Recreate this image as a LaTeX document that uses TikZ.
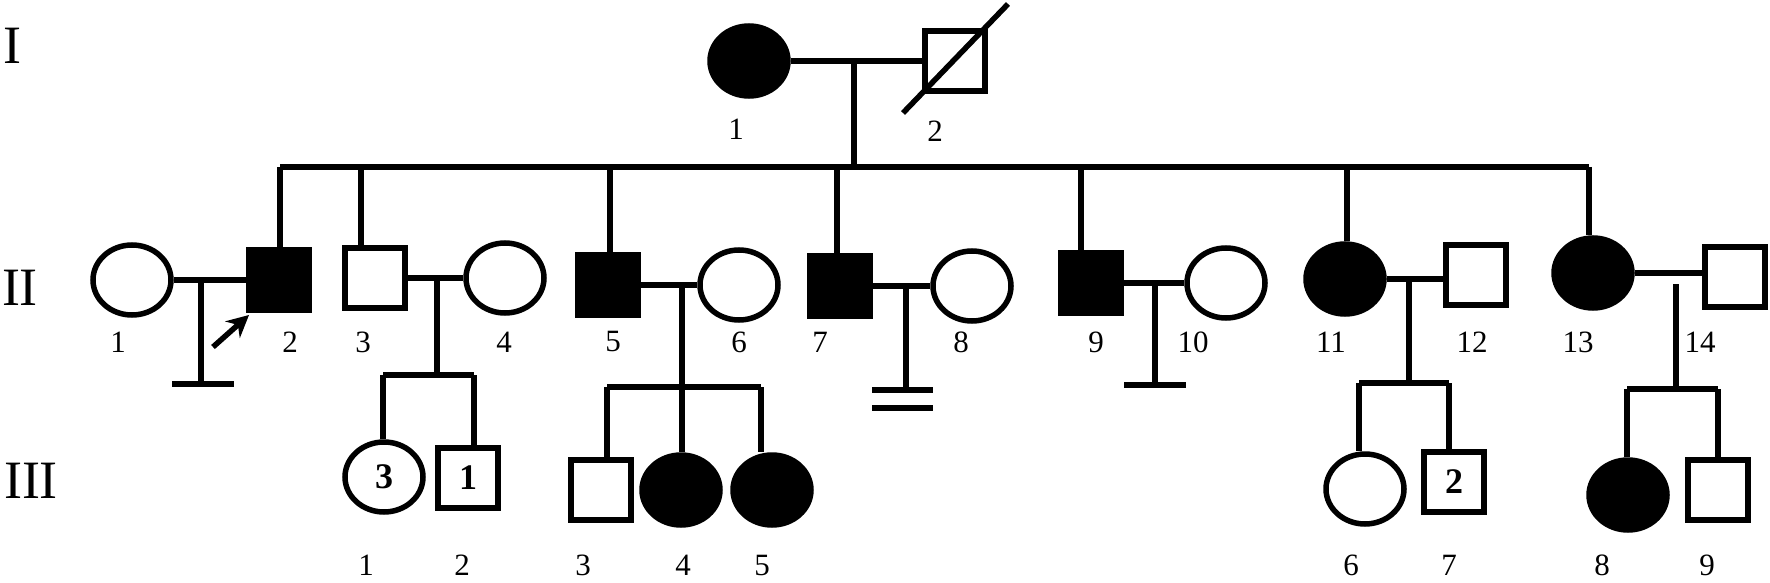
\documentclass[tikz,border=0pt]{standalone}
\usepackage{fontspec}
\setmainfont{Liberation Serif}
\usetikzlibrary{shapes.geometric, arrows.meta}

\begin{document}
\begin{tikzpicture}[x=1pt, y=-1pt, line width=5.5pt,
    female/.style={draw, ellipse, minimum width=78pt, minimum height=70pt, inner sep=0pt},
    male/.style={draw, rectangle, minimum size=60pt, inner sep=0pt},
    affected/.style={fill=black},
    num/.style={font=\fontsize{31}{33}\selectfont, inner sep=0pt},
    count/.style={font=\fontsize{36}{38}\selectfont\bfseries},
    gen/.style={font=\fontsize{54}{56}\selectfont, inner sep=0pt}]
        \useasboundingbox (0,0) rectangle (1770,583);

        % Generation labels
        \node[gen] (gI) at (12, 46) {I};
        \node[gen] (gII) at (20, 288) {II};
        \node[gen] (gIII) at (31, 481) {III};

        % Generation I
        \node[female, affected] (I1) at (749, 61) {};
        \node[male] (I2) at (955, 61) {};
        \draw ([shift={(-52,52)}]I2.center) -- ([shift={(53,-57)}]I2.center); % deceased
        \node[num] (nI1) at (736, 129) {1};
        \node[num] (nI2) at (935, 131) {2};

        % Marriage and sibship line of generation I
        \draw (I1.east) -- (I2.west);
        \coordinate (mI) at (854, 61);
        \coordinate (sL) at (280, 167);
        \coordinate (sR) at (1589, 167);
        \draw (mI) -- (mI |- sL);
        \draw (sL) -- (sR);

        % Generation II
        \node[female] (II1) at (132, 280) {};
        \node[male, affected] (II2) at (279, 280) {};
        \node[male] (II3) at (375, 278) {};
        \node[female] (II4) at (505, 278) {};
        \node[male, affected] (II5) at (608, 285) {};
        \node[female] (II6) at (739, 285) {};
        \node[male, affected] (II7) at (840, 286) {};
        \node[female] (II8) at (972, 286) {};
        \node[male, affected] (II9) at (1091, 283) {};
        \node[female] (II10) at (1226, 283) {};
        \node[female, affected] (II11) at (1345, 279) {};
        \node[male] (II12) at (1476, 275) {};
        \node[female, affected] (II13) at (1593, 273) {};
        \node[male] (II14) at (1735, 277) {};

        % Drops from the sibship line
        \coordinate (d2) at (280, 167);
        \coordinate (d3) at (361, 167);
        \coordinate (d5) at (610, 167);
        \coordinate (d7) at (837, 167);
        \coordinate (d9) at (1081, 167);
        \coordinate (d11) at (1347, 167);
        \coordinate (d13) at (1589, 167);
        \draw (d2) -- (d2 |- II2.north);
        \draw (d3) -- (d3 |- II3.north);
        \draw (d5) -- (d5 |- II5.north);
        \draw (d7) -- (d7 |- II7.north);
        \draw (d9) -- (d9 |- II9.north);
        \draw (d11) -- (d11 |- II11.north);
        \draw (d13) -- (d13 |- II13.north);

        % Numbers of generation II
        \node[num] (nII1) at (118, 342) {1};
        \node[num] (nII2) at (290, 342) {2};
        \node[num] (nII3) at (363, 342) {3};
        \node[num] (nII4) at (504, 342) {4};
        \node[num] (nII5) at (613, 342) {5};
        \node[num] (nII6) at (739, 342) {6};
        \node[num] (nII7) at (820, 342) {7};
        \node[num] (nII8) at (961, 342) {8};
        \node[num] (nII9) at (1096, 342) {9};
        \node[num] (nII10) at (1193, 342) {10};
        \node[num] (nII11) at (1331, 342) {11};
        \node[num] (nII12) at (1472, 342) {12};
        \node[num] (nII13) at (1578, 342) {13};
        \node[num] (nII14) at (1700, 342) {14};

        % Marriage lines of generation II
        \draw (II1.east) -- (II2.west);
        \draw (II3.east) -- (II4.west);
        \draw (II5.east) -- (II6.west);
        \draw (II7.east) -- (II8.west);
        \draw (II9.east) -- (II10.west);
        \draw (II11.east) -- (II12.west |- II11.east);
        \draw (II13.east) -- (II14.west |- II13.east);

        % Proband arrow
        \coordinate (pa) at (213, 347);
        \coordinate (pb) at (249, 315);
        \draw[line width=5.5pt, -{Stealth[length=22pt, width=22pt]}] (pa) -- (pb);

        % No offspring
        \coordinate (u1) at (201, 280);
        \coordinate (b1) at (201, 384);
        \draw (u1) -- (b1);
        \draw ([xshift=-29pt]b1) -- ([xshift=33pt]b1);

        \coordinate (u7) at (906, 286);
        \coordinate (b7) at (906, 390);
        \draw (u7) -- (b7);
        \draw ([xshift=-34pt]b7) -- ([xshift=27pt]b7);
        \draw ([shift={(-34,18)}]b7) -- ([shift={(27,18)}]b7); % infertility

        \coordinate (u9) at (1155, 283);
        \coordinate (b9) at (1155, 385);
        \draw (u9) -- (b9);
        \draw ([xshift=-31pt]b9) -- ([xshift=31pt]b9);

        % Generation III
        \node[female, count] (III1) at (384, 477) {3};
        \node[male, count] (III2) at (468, 478) {1};
        \node[male] (III3) at (601, 490) {};
        \node[female, affected] (III4) at (681, 490) {};
        \node[female, affected] (III5) at (772, 490) {};
        \node[female] (III6) at (1365, 489) {};
        \node[male, count] (III7) at (1454, 482) {2};
        \node[female, affected] (III8) at (1628, 495) {};
        \node[male] (III9) at (1718, 490) {};

        % Offspring of II-3 and II-4
        \coordinate (u3) at (437, 278);
        \coordinate (s3a) at (383, 375);
        \coordinate (s3b) at (474, 375);
        \draw (u3) -- (u3 |- s3a);
        \draw (s3a) -- (s3b);
        \draw (s3a) -- (s3a |- III1.north);
        \draw (s3b) -- (s3b |- III2.north);

        % Offspring of II-5 and II-6
        \coordinate (u5) at (682, 285);
        \coordinate (s5a) at (607, 387);
        \coordinate (s5b) at (761, 387);
        \draw (u5) -- (u5 |- III4.north);
        \draw (s5a) -- (s5b);
        \draw (s5a) -- (s5a |- III3.north);
        \draw (s5b) -- (s5b |- III5.north);

        % Offspring of II-11 and II-12
        \coordinate (u11) at (1409, 279);
        \coordinate (s11a) at (1359, 383);
        \coordinate (s11b) at (1449, 383);
        \draw (u11) -- (u11 |- s11a);
        \draw (s11a) -- (s11b);
        \draw (s11a) -- (s11a |- III6.north);
        \draw (s11b) -- (s11b |- III7.north);

        % Offspring of II-13 and II-14
        \coordinate (u13) at (1676, 284);
        \coordinate (s13a) at (1627, 389);
        \coordinate (s13b) at (1718, 389);
        \draw (u13) -- (u13 |- s13a);
        \draw (s13a) -- (s13b);
        \draw (s13a) -- (s13a |- III8.north);
        \draw (s13b) -- (s13b |- III9.north);

        % Numbers of generation III
        \node[num] (nIII1) at (366, 565) {1};
        \node[num] (nIII2) at (462, 565) {2};
        \node[num] (nIII3) at (583, 565) {3};
        \node[num] (nIII4) at (683, 565) {4};
        \node[num] (nIII5) at (762, 565) {5};
        \node[num] (nIII6) at (1351, 565) {6};
        \node[num] (nIII7) at (1449, 565) {7};
        \node[num] (nIII8) at (1602, 565) {8};
        \node[num] (nIII9) at (1707, 565) {9};

    \end{tikzpicture}
\end{document}
